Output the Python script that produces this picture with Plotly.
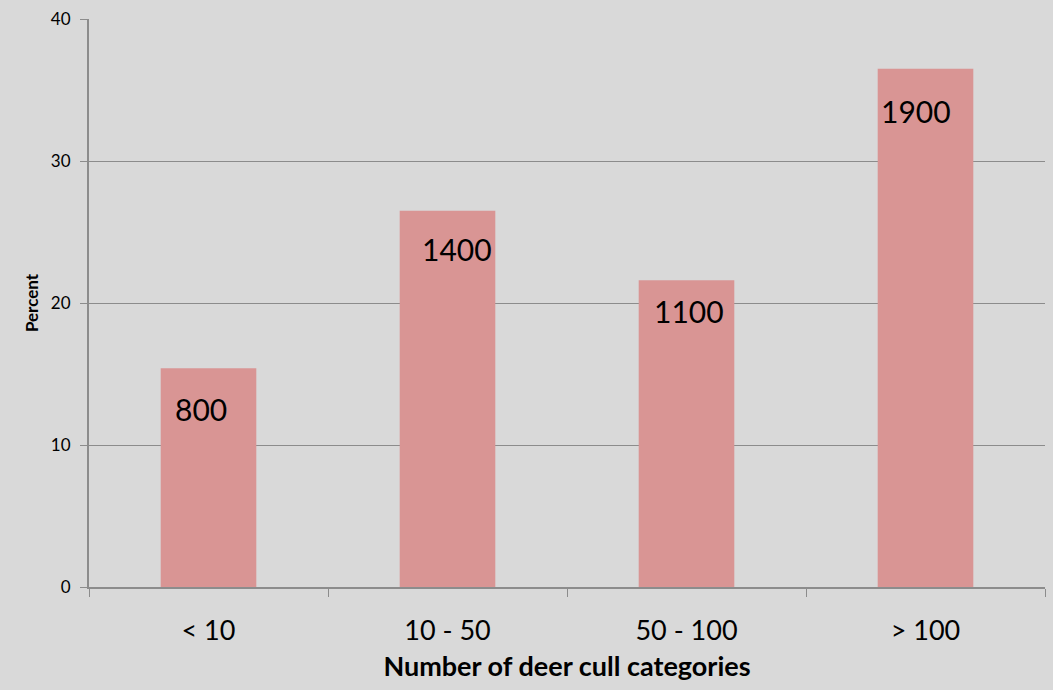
import plotly.graph_objects as go

categories = ["< 10", "10 - 50", "50 - 100", "> 100"]
percent = [15.4, 26.5, 21.6, 36.5]
counts = ["800", "1400", "1100", "1900"]

# where each count label sits relative to its bar top (pixels)
label_dx = [-36, -28, -35, -47]
label_dy = [-21, -18, -11, -22]

bg = "#d9d9d9"
line_col = "#8c8c8c"
font_family = "Lato, 'Open Sans', sans-serif"

fig = go.Figure(go.Bar(
    x=categories, y=percent,
    marker=dict(color="#d99594", line=dict(width=0)),
    width=0.4,
))

# count labels sit inside each bar, just under the top
for cat, val, txt, dx, dy in zip(categories, percent, counts, label_dx, label_dy):
    fig.add_annotation(
        x=cat, y=val, text=txt, showarrow=False,
        xanchor="left", yanchor="top", xref="x", yref="y",
        xshift=dx, yshift=dy,
        font=dict(size=30, color="black", family=font_family),
    )

fig.update_layout(
    width=1053, height=690,
    margin=dict(l=89, r=8, t=17, b=103),
    paper_bgcolor=bg, plot_bgcolor=bg,
    showlegend=False,
    font=dict(family=font_family, color="black"),
)

fig.update_xaxes(
    showline=True, linecolor=line_col, linewidth=2,
    ticks="outside", tickson="boundaries", ticklen=8, tickcolor=line_col,
    tickfont=dict(size=27), ticklabelstandoff=19,
    title=dict(text="<b>Number of deer cull categories</b>", font=dict(size=27), standoff=12),
    showgrid=False,
)
fig.update_yaxes(
    range=[0, 40], dtick=10,
    showline=True, linecolor=line_col, linewidth=2,
    ticks="outside", ticklen=7, tickcolor=line_col,
    showgrid=True, gridcolor=line_col, gridwidth=1,
    zeroline=False,
    tickfont=dict(size=17), ticklabelstandoff=6,
    title=dict(text="<b>Percent</b>", font=dict(size=17), standoff=8),
)

fig.write_html(
    "out.html",
    config={"displayModeBar": False},
    post_script="document.body.style.margin='0';document.body.style.background='%s';" % bg,
)
